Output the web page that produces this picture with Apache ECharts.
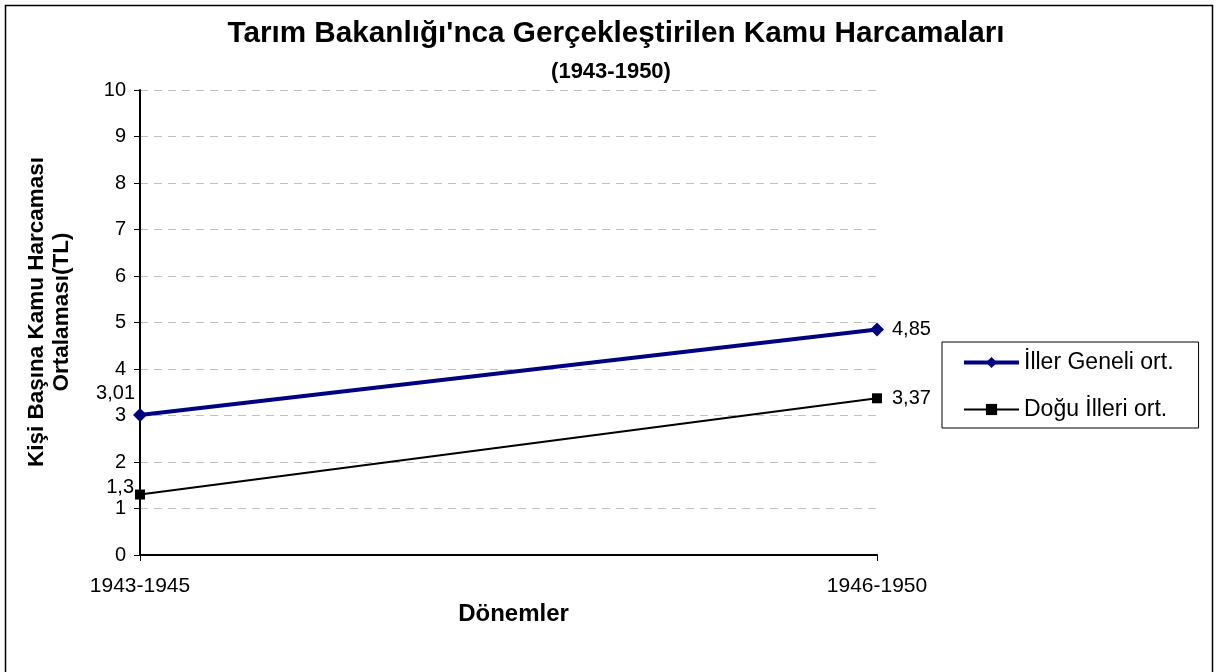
<!DOCTYPE html>
<html>
<head>
<meta charset="utf-8">
<script src="https://cdn.jsdelivr.net/npm/echarts@6/dist/echarts.min.js"></script>
<style>
  html, body { margin: 0; padding: 0; background: #fff; }
  #chart { width: 1221px; height: 672px; }
</style>
</head>
<body>
<div id="chart"></div>
<script>
// veriler
var donemler = ['1943-1945', '1946-1950'];
var illerGeneli = [3.01, 4.85];
var doguIlleri = [1.3, 3.37];
var yTicks = [0, 1, 2, 3, 4, 5, 6, 7, 8, 9, 10];

(function () {
  var myChart = echarts.init(document.getElementById('chart'));
  var font = 'Liberation Sans, Arial, sans-serif';

  // 3.01 -> "3,01"
  function fmt(v) {
    return String(v).replace('.', ',');
  }

  var option = {
    animation: false,
    textStyle: { fontFamily: font },
    title: [
      {
        text: "Tarım Bakanlığı'nca Gerçekleştirilen Kamu Harcamaları",
        left: 611, top: 14, textAlign: 'center',
        textStyle: { fontSize: 29.7, fontWeight: 'bold', color: '#000', fontFamily: font }
      },
      {
        text: '(1943-1950)',
        left: 606, top: 56, textAlign: 'center',
        textStyle: { fontSize: 22, fontWeight: 'bold', color: '#000', fontFamily: font }
      }
    ],
    graphic: [
      {
        type: 'rect',
        shape: { x: 5.5, y: 5.5, width: 1207, height: 700 },
        style: { fill: 'none', stroke: '#000', lineWidth: 1.5 }
      },
      // y ekseni başlığı (iki satır)
      {
        type: 'text',
        x: 37, y: 312,
        rotation: Math.PI / 2,
        style: {
          text: 'Kişi Başına Kamu Harcaması',
          font: 'bold 22.5px ' + font,
          fill: '#000',
          align: 'center',
          verticalAlign: 'middle'
        }
      },
      {
        type: 'text',
        x: 62, y: 312,
        rotation: Math.PI / 2,
        style: {
          text: 'Ortalaması(TL)',
          font: 'bold 22.5px ' + font,
          fill: '#000',
          align: 'center',
          verticalAlign: 'middle'
        }
      }
    ],
    legend: {
      orient: 'vertical',
      left: 942, top: 342,
      padding: [9, 25, 7, 20],
      itemGap: 24,
      itemWidth: 55,
      itemHeight: 14,
      borderColor: '#000',
      borderWidth: 1,
      textStyle: { fontSize: 23, color: '#000', fontFamily: font },
      data: [
        { name: 'İller Geneli ort.', lineStyle: { width: 4 } },
        { name: 'Doğu İlleri ort.', lineStyle: { width: 2 } }
      ]
    },
    grid: { left: 140, right: 344, top: 90, bottom: 117 },
    xAxis: {
      type: 'category',
      data: donemler,
      boundaryGap: false,
      name: 'Dönemler',
      nameLocation: 'middle',
      nameGap: 39,
      nameTextStyle: { fontSize: 24, fontWeight: 'bold', color: '#000', fontFamily: font, padding: [0, 0, 0, 10] },
      axisLine: { lineStyle: { color: '#000', width: 2 } },
      axisTick: { show: true, alignWithLabel: true, length: 6, lineStyle: { color: '#000' } },
      axisLabel: { fontSize: 21, color: '#000', margin: 21 },
      splitLine: { show: false }
    },
    yAxis: {
      type: 'value',
      min: yTicks[0],
      max: yTicks[yTicks.length - 1],
      interval: 1,
      axisLine: { show: true, lineStyle: { color: '#000', width: 2 } },
      axisTick: { show: true, length: 6, lineStyle: { color: '#000' } },
      axisLabel: { fontSize: 20, color: '#000', margin: 14 },
      splitLine: { show: true, lineStyle: { color: '#c0c0c0', type: [8, 6], width: 1 } }
    },
    series: [
      {
        name: 'İller Geneli ort.',
        type: 'line',
        symbol: 'diamond',
        symbolSize: 14,
        itemStyle: { color: '#000080' },
        lineStyle: { color: '#000080', width: 4 },
        label: {
          show: true,
          fontSize: 20,
          color: '#000',
          formatter: function (p) { return fmt(p.value); }
        },
        data: [
          { value: illerGeneli[0], label: { position: 'left', distance: -2, offset: [0, -22] } },
          { value: illerGeneli[1], label: { position: 'right', distance: 8 } }
        ],
        z: 3
      },
      {
        name: 'Doğu İlleri ort.',
        type: 'line',
        symbol: 'rect',
        symbolSize: 10,
        itemStyle: { color: '#000' },
        lineStyle: { color: '#000', width: 2 },
        label: {
          show: true,
          fontSize: 20,
          color: '#000',
          formatter: function (p) { return fmt(p.value); }
        },
        data: [
          { value: doguIlleri[0], label: { position: 'left', distance: 1, offset: [0, -7] } },
          { value: doguIlleri[1], label: { position: 'right', distance: 10 } }
        ],
        z: 2
      }
    ]
  };

  myChart.setOption(option);
  window.addEventListener('resize', function () {
    myChart.resize();
  });
})();
</script>
</body>
</html>
